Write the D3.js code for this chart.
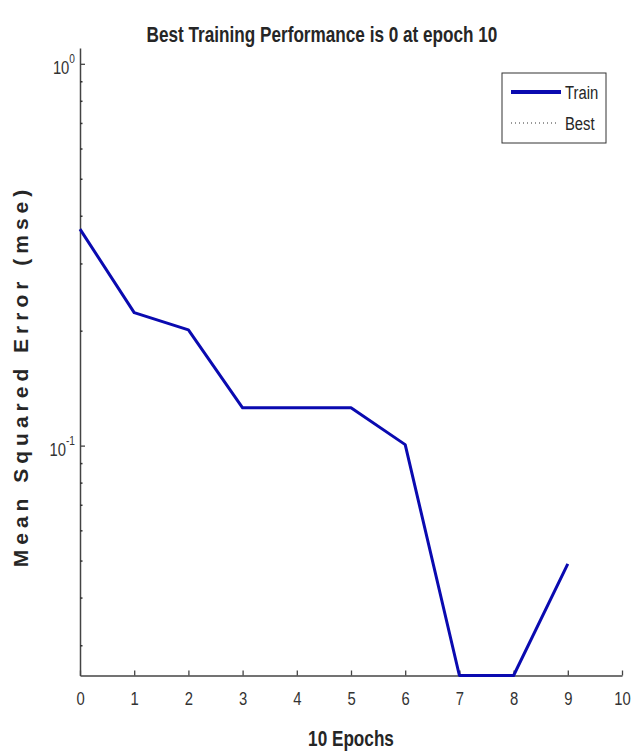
<!DOCTYPE html>
<html><head><meta charset="utf-8">
<script src="https://cdn.jsdelivr.net/npm/d3@7"></script>
<style>body{margin:0;background:#fff}svg{display:block}</style>
</head><body><svg id="c" width="643" height="754"></svg>
<script>
const epochs = [0, 1, 2, 3, 4, 5, 6, 7, 8, 9];
const trainMse = [0.369, 0.223, 0.201, 0.1256, 0.1256, 0.1256, 0.1006, 0.025, 0.025, 0.049];
const xTickValues = [0, 1, 2, 3, 4, 5, 6, 7, 8, 9, 10];
const yMajorTicks = [1, 0.1];
const yMajorExp = ["0", "-1"];
const yMinorTicks = [0.9, 0.8, 0.7, 0.6, 0.5, 0.4, 0.3, 0.2, 0.09, 0.08, 0.07, 0.06, 0.05, 0.04, 0.03];
const titleText = "Best Training Performance is 0 at epoch 10";
const xLabelText = "10 Epochs";
const yLabelText = "Mean Squared Error  (mse)";
const legendNames = ["Train", "Best"];

const font = "'Liberation Sans',Arial,sans-serif";
const SX = 0.78; // horizontal condensing to mimic a narrow font
const svg = d3.select("#c");
const pLeft = 80, pRight = 622, pTop = 48, pBottom = 675.5;
const x = d3.scaleLinear().domain([0, 10]).range([pLeft, pRight]);
const y = d3.scaleLog().domain([0.025, 1.1]).range([pBottom, pTop]);
const axisColor = "#444";

function condText(parent, tx, ty, str, size, weight, anchor) {
  return parent.append("text").attr("transform", `translate(${tx},${ty}) scale(${SX},1)`)
    .attr("text-anchor", anchor || "middle").attr("font-family", font)
    .attr("font-weight", weight || "normal").attr("font-size", size).attr("fill", "#262626").text(str);
}

// x axis
const gx = svg.append("g").attr("transform", `translate(0,${pBottom})`)
  .call(d3.axisBottom(x).tickValues(xTickValues).tickSizeInner(-5).tickSizeOuter(0).tickPadding(16).tickFormat(d3.format("d")));
gx.select(".domain").attr("stroke", axisColor).attr("stroke-width", 1.5);
gx.selectAll(".tick line").attr("stroke", axisColor).attr("stroke-width", 1.3);
gx.selectAll(".tick text").attr("font-family", font).attr("font-size", 19).attr("fill", "#333")
  .attr("transform", `scale(${SX},1)`);

// y axis major
const gy = svg.append("g").attr("transform", `translate(${pLeft},0)`)
  .call(d3.axisLeft(y).tickValues(yMajorTicks).tickSizeInner(-5).tickSizeOuter(0).tickFormat(() => ""));
gy.select(".domain").attr("stroke", axisColor).attr("stroke-width", 1.5);
gy.selectAll(".tick line").attr("stroke", axisColor).attr("stroke-width", 1.3);
gy.selectAll(".tick text").remove();
gy.selectAll(".tick").each(function(d, i) {
  const t = d3.select(this).append("text").attr("transform", `translate(-5,0) scale(${SX},1)`)
    .attr("text-anchor", "end").attr("font-family", font).attr("font-size", 19).attr("fill", "#333")
    .attr("dy", "0.5em");
  t.append("tspan").text("10");
  t.append("tspan").attr("font-size", 13).attr("dy", "-0.85em").text(yMajorExp[i]);
});
// y minor ticks
const gm = svg.append("g").attr("transform", `translate(${pLeft},0)`)
  .call(d3.axisLeft(y).tickValues(yMinorTicks).tickSizeInner(-2.5).tickSizeOuter(0).tickFormat(() => ""));
gm.select(".domain").remove();
gm.selectAll(".tick line").attr("stroke", "#333").attr("stroke-width", 1.5);

// train line
const line = d3.line().x((d, i) => x(epochs[i])).y(d => y(d));
svg.append("path").datum(trainMse).attr("d", line)
  .attr("fill", "none").attr("stroke", "#0a0ab0").attr("stroke-width", 3).attr("stroke-linejoin", "round");

// title and axis labels
condText(svg, 322, 42, titleText, 22, "bold");
condText(svg, (pLeft + pRight) / 2, 746, xLabelText, 22, "bold");
svg.append("text").attr("transform", "translate(28,376) rotate(-90)").attr("text-anchor", "middle")
  .attr("font-family", font).attr("font-weight", "bold").attr("font-size", 21)
  .attr("letter-spacing", 5).attr("fill", "#262626").text(yLabelText);

// legend
const lg = svg.append("g");
lg.append("rect").attr("x", 502).attr("y", 73).attr("width", 104).attr("height", 70)
  .attr("fill", "#fff").attr("stroke", "#333").attr("stroke-width", 1);
const legendY = [92, 123];
lg.append("line").attr("x1", 511).attr("x2", 561).attr("y1", legendY[0]).attr("y2", legendY[0])
  .attr("stroke", "#0a0ab0").attr("stroke-width", 4);
lg.append("line").attr("x1", 511).attr("x2", 558).attr("y1", legendY[1]).attr("y2", legendY[1])
  .attr("stroke", "#333").attr("stroke-width", 1).attr("stroke-dasharray", "1,3");
legendNames.forEach((n, i) => {
  condText(lg, 565, legendY[i] + 7, n, 19, "normal", "start");
});
</script></body></html>
